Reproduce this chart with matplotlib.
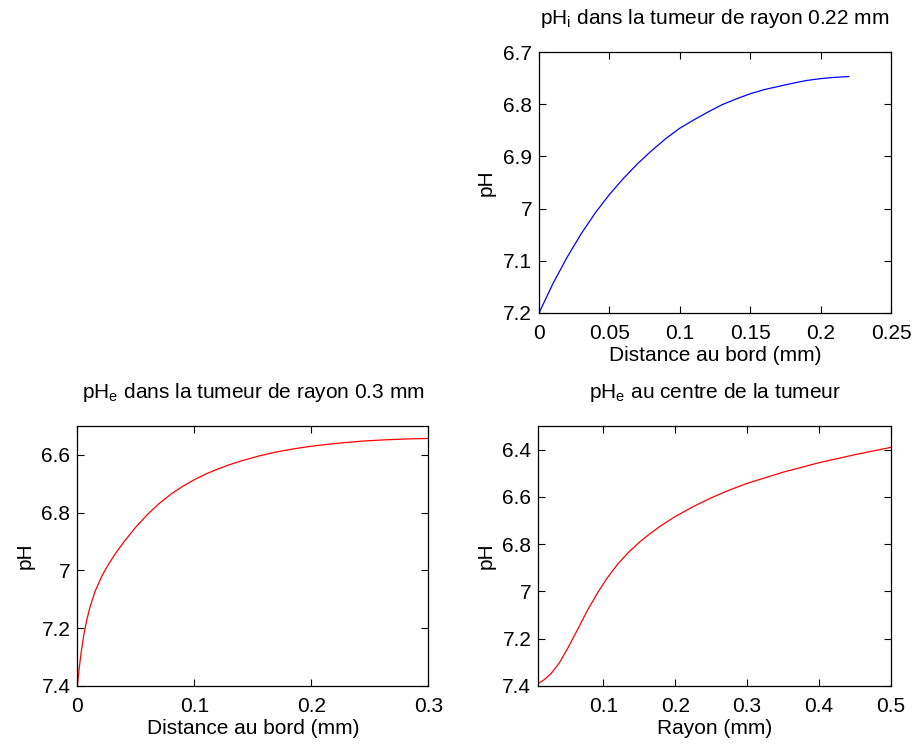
import numpy as np
import matplotlib
matplotlib.use("Agg")
import matplotlib.pyplot as plt

plt.rcParams['font.family'] = ['Liberation Sans', 'DejaVu Sans']
plt.rcParams['font.size'] = 15
plt.rcParams['mathtext.fontset'] = 'custom'
plt.rcParams['mathtext.rm'] = 'Liberation Sans'

# pH intracellulaire, tumeur de rayon 0.22 mm
dist_i = [0, 0.01, 0.02, 0.03, 0.04, 0.05, 0.06, 0.07, 0.08, 0.09, 0.10,
          0.11, 0.12, 0.13, 0.14, 0.15, 0.16, 0.17, 0.18, 0.19, 0.20, 0.21, 0.22]
ph_i = [7.2, 7.143, 7.093, 7.048, 7.008, 6.973, 6.942, 6.914, 6.889, 6.866, 6.846,
        6.830, 6.815, 6.801, 6.790, 6.780, 6.772, 6.766, 6.760, 6.7546, 6.751, 6.7486, 6.747]

# pH extracellulaire, tumeur de rayon 0.3 mm
dist_e = [0, 0.0014, 0.0031, 0.0057, 0.008, 0.0109, 0.0151, 0.0209, 0.0266,
          0.033, 0.04, 0.05, 0.06, 0.07, 0.08, 0.09, 0.10, 0.11, 0.12, 0.13,
          0.14, 0.155, 0.17, 0.185, 0.20, 0.215, 0.23, 0.245, 0.26, 0.28, 0.30]
ph_e = [7.4, 7.346, 7.288, 7.219, 7.173, 7.126, 7.073, 7.020, 6.979,
        6.939, 6.900, 6.850, 6.806, 6.768, 6.736, 6.709, 6.686, 6.666, 6.649, 6.634,
        6.621, 6.604, 6.590, 6.579, 6.570, 6.563, 6.557, 6.552, 6.5485, 6.545, 6.543]

# pH extracellulaire au centre selon le rayon
rayon = [0.0093, 0.0173, 0.0266, 0.0382, 0.0498, 0.0637, 0.0777, 0.093,
         0.105, 0.12, 0.135, 0.15, 0.165, 0.18, 0.20, 0.225, 0.25, 0.275,
         0.30, 0.35, 0.40, 0.45, 0.50]
ph_c = [7.389, 7.374, 7.349, 7.304, 7.243, 7.163, 7.080, 7.0,
        6.944, 6.884, 6.834, 6.792, 6.755, 6.722, 6.683, 6.641, 6.604, 6.5715,
        6.543, 6.4955, 6.4555, 6.4215, 6.3905]


def style_axes(ax):
    ax.tick_params(direction='in', top=True, right=True, length=5, width=0.8,
                   pad=8, labelsize=15)
    ax.tick_params(axis='y', pad=5)
    for s in ax.spines.values():
        s.set_linewidth(0.9)


fig = plt.figure(figsize=(9.13, 7.45), dpi=100)

ax1 = fig.add_axes([0.5904, 0.5799, 0.3855, 0.3503])
ax1.plot(dist_i, ph_i, color='#0000ff', lw=0.9)
ax1.set_xlim(0, 0.25)
ax1.set_ylim(7.2, 6.7)
ax1.set_xticks([0, 0.05, 0.1, 0.15, 0.2, 0.25])
ax1.set_xticklabels(['0', '0.05', '0.1', '0.15', '0.2', '0.25'])
ax1.set_yticks([6.7, 6.8, 6.9, 7.0, 7.1, 7.2])
ax1.set_yticklabels(['6.7', '6.8', '6.9', '7', '7.1', '7.2'])
ax1.set_title(r'pH$_\mathregular{i}$ dans la tumeur de rayon 0.22 mm', pad=20, fontsize=15)
ax1.set_xlabel('Distance au bord (mm)', labelpad=2)
ax1.set_ylabel('pH', labelpad=5)
style_axes(ax1)

ax2 = fig.add_axes([0.0847, 0.0792, 0.3845, 0.349])
ax2.plot(dist_e, ph_e, color='#ff0000', lw=0.9)
ax2.set_xlim(0, 0.3)
ax2.set_ylim(7.4, 6.5)
ax2.set_xticks([0, 0.1, 0.2, 0.3])
ax2.set_xticklabels(['0', '0.1', '0.2', '0.3'])
ax2.set_yticks([6.6, 6.8, 7.0, 7.2, 7.4])
ax2.set_yticklabels(['6.6', '6.8', '7', '7.2', '7.4'])
ax2.set_title(r'pH$_\mathregular{e}$ dans la tumeur de rayon 0.3 mm', pad=20, fontsize=15)
ax2.set_xlabel('Distance au bord (mm)', labelpad=2)
ax2.set_ylabel('pH', labelpad=5)
style_axes(ax2)

ax3 = fig.add_axes([0.5896, 0.0792, 0.3860, 0.349])
ax3.plot(rayon, ph_c, color='#ff0000', lw=0.9)
ax3.set_xlim(0.0093, 0.5)
ax3.set_ylim(7.4, 6.3)
ax3.set_xticks([0.1, 0.2, 0.3, 0.4, 0.5])
ax3.set_xticklabels(['0.1', '0.2', '0.3', '0.4', '0.5'])
ax3.set_yticks([6.4, 6.6, 6.8, 7.0, 7.2, 7.4])
ax3.set_yticklabels(['6.4', '6.6', '6.8', '7', '7.2', '7.4'])
ax3.set_title(r'pH$_\mathregular{e}$ au centre de la tumeur', pad=20, fontsize=15)
ax3.set_xlabel('Rayon (mm)', labelpad=2)
ax3.set_ylabel('pH', labelpad=5)
style_axes(ax3)

fig.savefig('out.png', dpi=100)
